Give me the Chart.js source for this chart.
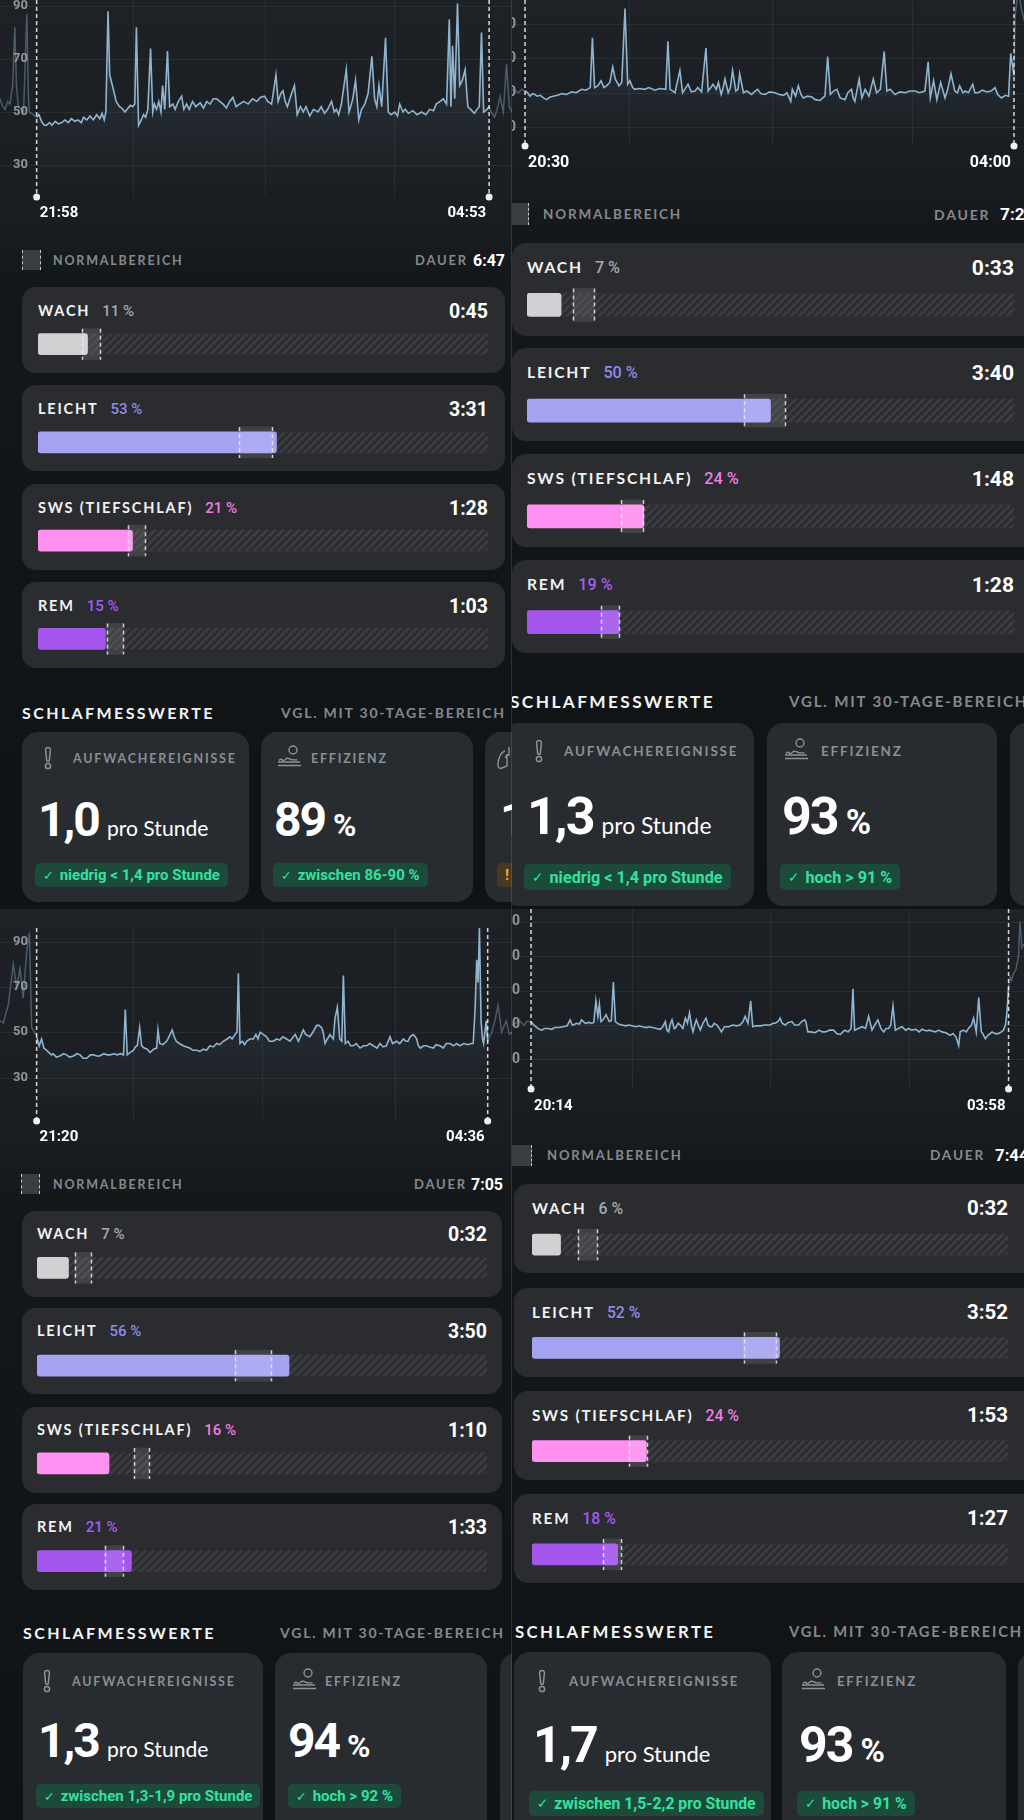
<!DOCTYPE html>
<html>
<head>
<meta charset="utf-8">
<script src="https://cdn.jsdelivr.net/npm/chart.js@4.4.1/dist/chart.umd.min.js"></script>
<style>
body { margin: 0; background: #111417; font-family: Lato, sans-serif; }
#page { position: relative; width: 1024px; height: 1820px; overflow: hidden; background: #111417; }
.panel { position: absolute; width: 512px; overflow: hidden; }
.abs { position: absolute; }
.card { position: absolute; background: #2a2c30; border-radius: 14px; }
.mcard { position: absolute; background: #282b2f; border-radius: 16px; }
.cap { position: absolute; font-family: Lato, sans-serif; font-weight: 700; text-transform: uppercase; white-space: nowrap; transform: translateY(-50%); }
.slabel { color: #f2f2f2; letter-spacing: 1.8px; }
.slabel span { font-family: Roboto, sans-serif; font-weight: 500; letter-spacing: 0; margin-left: 12px; }
.sdur { position: absolute; font-family: Roboto, sans-serif; font-weight: 700; color: #fff; transform: translate(-100%, -50%); white-space: nowrap; }
.gray { color: #85898e; letter-spacing: 1.8px; }
.nbicon { position: absolute; background: #393c41; border-left: 1.5px dashed #c8c8c8; border-right: 1.5px dashed #c8c8c8; box-sizing: border-box; }
.mnum { position: absolute; display: flex; align-items: baseline; line-height: 1; color: #fff; white-space: nowrap; }
.mnum b { font-family: Roboto, sans-serif; font-weight: 700; letter-spacing: -2px; }
.mnum span { font-family: Lato, sans-serif; margin-left: 8px; }
.mnum span.pc { font-family: Roboto, sans-serif; font-weight: 700; margin-left: 8px; }
.badge { position: absolute; display: flex; align-items: center; padding: 0 8px; border-radius: 5px; background: #1c4a3b; color: #33e2a0; font-family: Roboto, sans-serif; font-weight: 700; white-space: nowrap; }
.badge i { font-style: normal; font-family: "DejaVu Sans", sans-serif; font-weight: 400; margin-right: 6px; font-size: 0.85em; }
.badge.warn { background: #4a3921; color: #f3a53a; }
</style>
</head>
<body>
<div id="page"></div>
<script>
// --- data ---------------------------------------------------------------
const stageNames = ['WACH', 'LEICHT', 'SWS (TIEFSCHLAF)', 'REM'];
const stageColors = ['#d1d1d3', '#a6a2f2', '#ff8ff1', '#a355ec'];
const pctColors = ['#a7a9ad', '#8f8be8', '#f07de4', '#a75ded'];
const hrTicks = [30, 50, 70, 90, 110];

// night 1 (top left)
const timesA = ['21:58', '04:53'];
const totalA = '6:47';
const pctA = [11, 53, 21, 15];
const durA = ['0:45', '3:31', '1:28', '1:03'];
const normA = [[9.8, 13.8], [44.7, 52], [20, 23.8], [15.3, 18.9]];
const gridA = [88, 209, 328];
const wakeA = '1,0', wakeNoteA = 'niedrig < 1,4 pro Stunde';
const effA = '89', effNoteA = 'zwischen 86-90 %';
const preA = [[-33.6,55],[-31,52],[-29,51],[-26.5,54],[-24.5,53],[-22,60],[-20,82],[-18.5,60],[-16.8,52],[-14,51],[-12,50],[-9,87],[-7.5,55],[-6.7,50],[-3,49],[0,48]];
const hrA = [[0,48],[2,49],[5,46],[7,45],[9,45],[12,46],[14,45],[17,46.5],[20,45.5],[23,46],[26,47],[29,46],[32,47.5],[35,46.5],[38,47],[41,46],[43,48],[46,47],[49,48.5],[52,47],[55,49],[58,47.5],[60,49.5],[62,47],[63.5,50],[65.5,88],[67,64],[69.5,60],[73,54],[76,52],[78,51.5],[81,50],[83,51],[86,52.5],[88,52],[90,53],[91.5,82],[93.5,45],[96,47],[98,49],[100,48],[102,51],[104.5,74],[106.5,50],[108,53],[110,51],[112,54],[114,50],[115.5,60],[117.5,51],[120,73],[122,52],[125,53],[127,51],[130,54],[133,56],[135,51],[137.5,53],[140,51],[143,54],[146,52],[150,53.5],[153,51.5],[156,54],[159,53],[162,55],[165,55],[168,54],[171,53],[174,51.5],[177,54],[180,55.5],[183,52],[186,53],[190,54],[194,53],[198,55],[202,54],[205,55.5],[209,56],[212,54],[215.5,53],[219.5,64],[221.5,54],[224,57],[226,58],[228,54],[230,52],[233,56],[236.5,60],[239,49],[242,52],[244.5,50],[247,52],[250.5,48.5],[254,51],[258,50],[261,52],[264,49.5],[267,51],[270.5,54],[273,50],[275,51],[277,49],[279.5,53],[284,66],[286.5,50],[288,52],[290,55],[292.5,62],[295.5,47],[298,51],[301,53],[304,57],[307.5,71],[310,55],[312,52],[314,60],[316.5,52],[320,78],[322.5,50],[325,49],[328.5,50],[331,48.5],[333,53],[336,50],[338,51],[341,49.5],[345,50.5],[349,49],[353,50],[357,49],[360.5,51],[364,50.5],[366.5,53],[370,54],[373,55],[376,53],[378.5,85],[380,52],[381.5,75],[383.5,55],[386,91],[388,60],[390.5,62],[393,66],[395.5,52],[398,51],[401.5,49.5],[404,51],[406,52],[408,80],[410,50],[413,51],[415,52]];
const postA = [[415,52],[417,50],[420,48],[423,52],[425,56],[428,50],[431,68],[433.5,52],[436,50]];

// night 2 (top right)
const timesB = ['20:30', '04:00'];
const totalB = '7:29';
const pctB = [7, 50, 24, 19];
const durB = ['0:33', '3:40', '1:48', '1:28'];
const normB = [[9.5, 13.8], [44.6, 52.9], [19.4, 23.9], [15.2, 18.9]];
const gridB = [96, 227, 356];
const wakeB = '1,3', wakeNoteB = 'niedrig < 1,4 pro Stunde';
const effB = '93', effNoteB = 'hoch > 91 %';
const preB = [[-12.3,52],[-9,51],[-6,50],[-3,52],[0,51]];
const hrB = [[0,51],[2.5,50],[4.5,48],[7,49.5],[9,49],[11,48],[14,48.5],[17,47],[20,46],[23,47.5],[26,48],[30,48.5],[34,49.5],[38,49],[43,50.5],[47,50],[52,52],[56,51.5],[60,53],[62,82],[64,53],[67,54],[70,57],[72.5,53],[75,54],[78,56],[80.7,65],[83,58],[86.5,54],[89,56],[92,99],[94.5,55],[96.5,57],[99,53],[101,52],[105,52.5],[110,52],[114,53],[119.5,51.5],[124,52.5],[129.5,52],[131.5,80],[133.5,52],[136,51],[138,50],[142.5,63],[145,50],[147,52],[150,55],[153,50.5],[156.5,51],[159,53],[162.5,50.5],[166.5,76],[168.5,51],[171,53],[173,55],[176,52],[178,56],[180.5,49],[182,52],[184,58],[187,50],[189,53],[191,63],[194,51],[196,52],[197.5,61],[201,50],[204,51],[208.5,49],[211,50.5],[214,52],[217,49.5],[221,49],[225,50.5],[230,50],[234,49],[238,48.5],[241,50],[244.5,45],[246,52],[249,48],[251.5,54],[254,49],[256,47],[260,48],[264,47.5],[267,46],[271.5,45.5],[274,47],[276,48],[278.5,71],[281,49],[284,51],[287,52],[290,47],[294.5,46],[297,50],[300.5,52],[302,47],[303.5,45],[307.5,58],[310,47],[313,52],[316.5,48],[320.5,58],[323.5,50],[327,52],[330.5,74],[333,51],[336,52],[340.5,49],[345,50.5],[350,50],[354,51],[359,51],[363,50],[368,51],[371,68],[373,47],[376,57],[379,46],[382.5,56],[386.5,47],[389,52],[392,61],[395.5,51],[398,50],[400,54],[403,50],[405,51],[408,50],[412,55],[414,50],[417,50],[421,51.5],[425,50.5],[429,51],[432.5,53],[435,49],[438.5,47],[442,48.5],[445,48],[447,73],[450,60]];
const postB = [[450,60],[451,95],[454,110],[457,98],[459.5,92]];

// night 3 (bottom left)
const timesC = ['21:20', '04:36'];
const totalC = '7:05';
const pctC = [7, 56, 16, 21];
const durC = ['0:32', '3:50', '1:10', '1:33'];
const normC = [[8.4, 12], [44, 52], [21.6, 24.9], [15, 19]];
const gridC = [93, 218, 346];
const wakeC = '1,3', wakeNoteC = 'zwischen 1,3-1,9 pro Stunde';
const effC = '94', effNoteC = 'hoch > 92 %';
const preC = [[-35.4,55],[-32,54],[-30.6,57],[-27.4,62],[-22.6,80],[-19.3,70],[-16,78],[-13,65],[-9.7,85],[-7,94],[-4.8,52],[-2,50],[0,48]];
const hrC = [[0,48],[2.5,44],[4.8,47],[7,43],[9.7,42],[12,41],[14.5,40],[16,40.5],[19,39],[22.5,39.5],[26,40.5],[29,40],[32,39],[35.5,39.5],[39,40.5],[42,40],[45,38.5],[48.5,38.5],[52,40],[55,40],[58,39.5],[61,39.5],[65,40.5],[68,40],[71,40],[75,40.5],[78,40],[81,40.5],[84,40],[85.7,60],[87.6,40],[90,41],[93.5,42],[95.5,43.5],[97.3,44],[99.6,52],[101.5,44],[104,43],[107,42.5],[109.6,41],[113,42.5],[116,43],[117.3,51],[119,45],[122,44.5],[125.7,46],[128,48],[131,51],[133,48],[135,46],[138,45],[141.8,44],[145,43.5],[148,43],[151,42],[154.7,42],[158,41.5],[161,42.5],[164,42],[167.6,44],[171,43.5],[174,45],[177,44.5],[180.5,46],[184,47],[187,48],[189,47],[191.7,49],[193.7,50],[195,76],[196.6,45],[199,46],[201,44.5],[203,46],[206,47],[209.5,47],[212,49],[214,47],[216,50],[219,49],[222.3,48],[225,46],[228.8,46],[232,47],[235,46.5],[238,48],[241.7,47],[245,46],[248,48],[250,49],[253,46],[255,48],[257.8,51],[260,49],[264,48],[267,50],[270.7,53],[273,53],[275.5,52],[277,50],[278.8,45],[281,47],[283.6,49],[285,48],[286.8,47],[288.4,56],[290.7,61],[293,47],[295,46],[296.5,75],[298.4,45],[301,46],[303.5,44],[306,44],[309,45],[312.6,43],[316,44],[319,44],[322,45],[325.5,44],[329,43],[332,45],[335,43.5],[338,44],[341.6,48],[344,45],[348,46],[351,45],[354.5,47],[357,46],[359,46],[361,48],[364,49],[366,48],[367.4,47],[369,44],[371,43],[374,44],[377,44],[380,43.5],[383.5,43],[386,44.5],[390,44],[393,43],[396,45],[399.6,45],[403,44],[406,45],[409,44],[413,45],[417,44.5],[420,45],[422,45],[423.8,60],[425.4,82],[426.7,72],[428,96],[429.6,55],[431,47],[432,45],[434.6,55],[436,46]];
const postC = [[436,46],[438,48],[440,50],[443,55],[446,62],[449.5,50],[452,53],[454,55],[457,49],[459.5,50]];

// night 4 (bottom right)
const timesD = ['20:14', '03:58'];
const totalD = '7:44';
const pctD = [6, 52, 24, 18];
const durD = ['0:32', '3:52', '1:53', '1:27'];
const normD = [[9.7, 13.6], [44.5, 51.2], [20.4, 24.2], [15, 18.7]];
const gridD = [98, 232, 367];
const wakeD = '1,7', wakeNoteD = 'zwischen 1,5-2,2 pro Stunde';
const effD = '93', effNoteD = 'hoch > 91 %';
const preD = [[-18.5,50],[-15,51],[-12,53],[-9,51],[-7,50],[-4,52],[-2.3,52],[0,52]];
const hrD = [[0,52],[2.6,50],[5.8,48.5],[8,47.5],[10.7,47],[13,48],[17,48],[20,47.5],[23,48.5],[27,48.5],[31,49],[35,49.5],[38,53],[40,50],[41.5,50],[44,51],[47,50.5],[49,53],[52.8,51],[56,51.5],[59,51],[61,51.5],[63,64],[65,55],[66.4,62],[68,52],[70,53],[72.9,56],[76,52],[78,52.5],[80,75],[82,52],[85,50.5],[88.4,50],[92,49.5],[95,50],[98,49.5],[102,49],[105,49.5],[108,49],[112,48.5],[115,49],[118,48.5],[122,48],[125.6,47.5],[128,49],[130.5,52],[132,47],[133.7,46],[135,50],[137,53],[139,48],[140,48],[143,51],[145,50],[147.5,48],[150,54],[152,51],[154,57],[156,49],[157.4,46],[159,50],[160.6,53],[162.5,50],[164.5,47],[167,51],[170,54],[172,50],[174,49],[175.8,49],[178,51],[180.7,50],[183,48],[185,46],[188,49],[192,49],[196,50],[200,49.5],[203,50],[206,52],[208,55],[210.8,51],[213.4,64],[215.4,49],[218,49.5],[222.8,49.5],[227,50],[232.5,50],[235,51],[237.4,51],[240,52],[242,54],[244,51],[247,50],[250,51.5],[253.5,52],[256,50],[260,50],[263,52],[265.9,53],[267,52],[269,46],[272,46],[276,45.5],[280,47],[283,46],[286,46],[290,47],[294,47],[297,45],[300.5,44.5],[303,46],[305,47],[308,46],[311,48],[312.8,71],[314.4,47],[318,48],[321.6,49],[325,48],[328,55],[331.3,47],[334,50],[337,53],[340,48],[342.6,46],[345,48],[347.5,48],[349.5,50],[351.7,61],[354,47],[357,48],[360.4,49],[364,47],[367,48],[370,47],[374,47.5],[377,46],[380,47.5],[384,46.5],[387,47],[389.6,46.5],[393,46],[396,47],[399.3,46],[403,45.5],[407.4,44],[410,45],[413,43],[415.5,38],[417,46],[420,47],[423,46],[425,48],[428,50],[430,54],[432.6,46],[435,66],[437.5,46],[439,45],[441.4,42],[444,44],[448,46],[451,45],[454,45],[457,46],[459,47],[461,50],[462,55],[463,62],[464,72]];
const postD = [[464,72],[465.5,78],[467,76],[468.8,80],[471,82],[473.7,90],[475,110],[477,95],[479,97]];

// --- layout of the four screenshots -----------------------------------
const layoutA = {
  x: 0, y: 0, h: 909, s: 1,
  hr: { top: 0, height: 230, pad: 33, min: -33.6, max: 436, yMin: 17.9, yMax: 92.3, labelRight: 28, timeDy: 16 },
  legend: { y: 260, icon: 22, iconW: 19, text: 53, dauer: 415, value: 473 },
  cards: { left: 22, right: 505, tops: [287, 385, 484, 582], h: 86, labelDy: 24, barDy: 57.5, track: [38, 488], bar: 21 },
  metric: { titleY: 712, titleX: 22, vglX: 281, top: 732, h: 170, headDy: 26, base: 104, badgeTop: 131, badgeH: 24, num: 48,
    cards: [{ x0: 22, x1: 249, icon: 26, head: 51, numX: 16, badge: 13 }, { x0: 261, x1: 473, icon: 14, head: 50, numX: 13, badge: 12 }, { x0: 485, x1: 720, extra: true }] }
};
const layoutB = {
  x: 512, y: 0, h: 909, s: 1.08,
  hr: { top: 0, height: 170, pad: 24, min: -12, max: 459.2, yMin: 19, yMax: 104, labelRight: 4, timeDy: 17 },
  legend: { y: 214, icon: -3, iconW: 20, text: 31, dauer: 422, value: 488 },
  cards: { left: 0, right: 530, tops: [243, 348, 454, 560], h: 93, labelDy: 24, barDy: 61.5, track: [15, 502], bar: 23 },
  metric: { titleY: 701, titleX: -2, vglX: 277, top: 723, h: 183, headDy: 28, base: 112, badgeTop: 141, badgeH: 26, num: 52,
    cards: [{ x0: -10, x1: 242, icon: 37, head: 62, numX: 25, badge: 22 }, { x0: 255, x1: 485, icon: 15, head: 54, numX: 15, badge: 13 }, { x0: 498, x1: 740 }] }
};
const layoutC = {
  x: 0, y: 909, h: 911, s: 1,
  hr: { top: 19, height: 223, pad: 30, min: -35.4, max: 459.5, yMin: 10.8, yMax: 96, labelRight: 28, timeDy: 16 },
  legend: { y: 275, icon: 21, iconW: 19, text: 53, dauer: 414, value: 471 },
  cards: { left: 22, right: 502, tops: [302, 399, 498, 595], h: 86, labelDy: 23, barDy: 57, track: [37, 487], bar: 21 },
  metric: { titleY: 723, titleX: 23, vglX: 280, top: 744, h: 190, headDy: 28, base: 104, badgeTop: 131, badgeH: 24, num: 48,
    cards: [{ x0: 23, x1: 263, icon: 24, head: 49, numX: 15, badge: 13 }, { x0: 275, x1: 487, icon: 15, head: 50, numX: 13, badge: 13 }, { x0: 500, x1: 720 }] }
};
const layoutD = {
  x: 512, y: 909, h: 911, s: 1.05,
  hr: { top: 0, height: 210, pad: 30, min: -18.5, max: 479, yMin: 12.8, yMax: 117.4, labelRight: 8, timeDy: 17 },
  legend: { y: 246, icon: -2, iconW: 22, text: 35, dauer: 418, value: 483 },
  cards: { left: 2, right: 530, tops: [275, 379, 482, 585], h: 89, labelDy: 23.5, barDy: 60.5, track: [20, 496], bar: 21 },
  metric: { titleY: 722, titleX: 3, vglX: 277, top: 743, h: 190, headDy: 29, base: 110, badgeTop: 139, badgeH: 25, num: 50,
    cards: [{ x0: 2, x1: 259, icon: 28, head: 55, numX: 19, badge: 15 }, { x0: 270, x1: 494, icon: 17, head: 55, numX: 17, badge: 15 }, { x0: 506, x1: 720 }] }
};

const panels = [
  { L: layoutA, pre: preA, hr: hrA, post: postA, grid: gridA, times: timesA, total: totalA, pct: pctA, dur: durA, norm: normA, wake: wakeA, wakeNote: wakeNoteA, eff: effA, effNote: effNoteA },
  { L: layoutB, pre: preB, hr: hrB, post: postB, grid: gridB, times: timesB, total: totalB, pct: pctB, dur: durB, norm: normB, wake: wakeB, wakeNote: wakeNoteB, eff: effB, effNote: effNoteB },
  { L: layoutC, pre: preC, hr: hrC, post: postC, grid: gridC, times: timesC, total: totalC, pct: pctC, dur: durC, norm: normC, wake: wakeC, wakeNote: wakeNoteC, eff: effC, effNote: effNoteC },
  { L: layoutD, pre: preD, hr: hrD, post: postD, grid: gridD, times: timesD, total: totalD, pct: pctD, dur: durD, norm: normD, wake: wakeD, wakeNote: wakeNoteD, eff: effD, effNote: effNoteD }
];

// --- plugins ------------------------------------------------------------
const hrDecor = {
  id: 'hrDecor',
  beforeDatasetsDraw(chart, args, o) {
    const { ctx, chartArea: a, scales: { x, y } } = chart;
    ctx.save();
    ctx.strokeStyle = 'rgba(255,255,255,0.06)';
    ctx.lineWidth = 1;
    ctx.beginPath();
    o.grid.forEach(m => {
      const px = Math.round(x.getPixelForValue(m)) + 0.5;
      ctx.moveTo(px, a.top); ctx.lineTo(px, a.bottom);
    });
    o.ticks.forEach(v => {
      if (v < y.min || v > y.max) return;
      const py = Math.round(y.getPixelForValue(v)) + 0.5;
      ctx.moveTo(a.left, py); ctx.lineTo(a.right, py);
    });
    ctx.stroke();
    ctx.restore();
  },
  afterDatasetsDraw(chart, args, o) {
    const { ctx, chartArea: a, scales: { x, y } } = chart;
    ctx.save();
    ctx.font = 'bold ' + Math.round(13 * o.s) + 'px Roboto';
    ctx.fillStyle = 'rgba(165,169,175,0.85)';
    ctx.textAlign = 'right';
    ctx.textBaseline = 'middle';
    o.ticks.forEach(v => {
      if (v < y.min || v > y.max) return;
      ctx.fillText(String(v), o.labelRight, y.getPixelForValue(v));
    });
    const xs = [x.getPixelForValue(o.start), x.getPixelForValue(o.end)];
    ctx.strokeStyle = 'rgba(235,235,235,0.9)';
    ctx.lineWidth = 1.5;
    ctx.setLineDash([4, 3]);
    xs.forEach(px => { ctx.beginPath(); ctx.moveTo(px, a.top); ctx.lineTo(px, a.bottom); ctx.stroke(); });
    ctx.setLineDash([]);
    ctx.fillStyle = '#f2f2f2';
    xs.forEach(px => { ctx.beginPath(); ctx.arc(px, a.bottom, 3.5, 0, Math.PI * 2); ctx.fill(); });
    ctx.font = 'bold ' + Math.round(14.5 * o.s) + 'px Roboto';
    ctx.fillStyle = '#ffffff';
    ctx.textAlign = 'left';
    ctx.fillText(o.times[0], xs[0] + 3, a.bottom + o.timeDy);
    ctx.textAlign = 'right';
    ctx.fillText(o.times[1], xs[1] - 3, a.bottom + o.timeDy);
    ctx.restore();
  }
};

const normEdges = {
  id: 'normEdges',
  afterDatasetsDraw(chart) {
    const { ctx } = chart;
    ctx.save();
    ctx.strokeStyle = 'rgba(235,235,235,0.85)';
    ctx.lineWidth = 1.5;
    ctx.setLineDash([4, 3]);
    chart.getDatasetMeta(0).data.forEach(bar => {
      const { x, base, y, height } = bar.getProps(['x', 'base', 'y', 'height'], true);
      [x, base].forEach(px => {
        ctx.beginPath();
        ctx.moveTo(Math.round(px) + 0.5, y - height / 2);
        ctx.lineTo(Math.round(px) + 0.5, y + height / 2);
        ctx.stroke();
      });
    });
    ctx.restore();
  }
};

function hatch() {
  const c = document.createElement('canvas');
  c.width = 8; c.height = 8;
  const g = c.getContext('2d');
  g.fillStyle = '#2c2e32';
  g.fillRect(0, 0, 8, 8);
  g.strokeStyle = '#3c3e42';
  g.lineWidth = 2.6;
  g.beginPath();
  g.moveTo(-1, 9); g.lineTo(9, -1);
  g.moveTo(-1, 1); g.lineTo(1, -1);
  g.moveTo(7, 9); g.lineTo(9, 7);
  g.stroke();
  return g.createPattern(c, 'repeat');
}

// --- helpers ------------------------------------------------------------
function add(parent, cls, style, html) {
  const d = document.createElement('div');
  if (cls) d.className = cls;
  d.style.cssText = style;
  if (html != null) d.innerHTML = html;
  parent.appendChild(d);
  return d;
}

function canvasAt(parent, left, top, w, h) {
  const c = document.createElement('canvas');
  c.width = w; c.height = h;
  c.style.cssText = `position:absolute;left:${left}px;top:${top}px;width:${w}px;height:${h}px`;
  parent.appendChild(c);
  return c;
}

const pts = arr => arr.map(p => ({ x: p[0], y: p[1] }));

function hrChart(canvas, p) {
  const H = p.L.hr;
  const faded = 'rgba(143,180,207,0.4)';
  new Chart(canvas, {
    type: 'line',
    data: {
      datasets: [
        {
          data: pts(p.hr), borderColor: '#8fb5d0', borderWidth: 1.6, pointRadius: 0, tension: 0, fill: 'start',
          backgroundColor: c => {
            const a = c.chart.chartArea;
            if (!a) return 'rgba(0,0,0,0)';
            const g = c.chart.ctx.createLinearGradient(0, a.top + a.height * 0.35, 0, a.bottom);
            g.addColorStop(0, 'rgba(140,175,200,0.10)');
            g.addColorStop(1, 'rgba(140,175,200,0)');
            return g;
          }
        },
        { data: pts(p.pre), borderColor: faded, borderWidth: 1.5, pointRadius: 0, tension: 0 },
        { data: pts(p.post), borderColor: faded, borderWidth: 1.5, pointRadius: 0, tension: 0 }
      ]
    },
    options: {
      responsive: false, animation: false, events: [],
      layout: { padding: { bottom: H.pad } },
      scales: {
        x: { type: 'linear', min: H.min, max: H.max, display: false },
        y: { min: H.yMin, max: H.yMax, display: false }
      },
      plugins: {
        legend: { display: false }, tooltip: { enabled: false },
        hrDecor: { grid: p.grid, ticks: hrTicks, labelRight: H.labelRight, start: 0, end: p.hr[p.hr.length - 1][0], times: p.times, timeDy: H.timeDy, s: p.L.s }
      }
    },
    plugins: [hrDecor]
  });
}

function stageChart(canvas, p, pattern) {
  const C = p.L.cards;
  new Chart(canvas, {
    type: 'bar',
    data: {
      labels: stageNames,
      datasets: [
        { data: p.norm, backgroundColor: 'rgba(255,255,255,0.1)', barThickness: C.bar + 10, grouped: false, borderWidth: 0 },
        { data: p.pct, backgroundColor: stageColors, barThickness: C.bar, borderRadius: 3, borderSkipped: false, grouped: false },
        { data: stageNames.map(() => 100), backgroundColor: pattern, barThickness: C.bar, borderRadius: 3, borderSkipped: false, grouped: false }
      ]
    },
    options: {
      indexAxis: 'y', responsive: false, animation: false, events: [],
      scales: { x: { min: 0, max: 100, display: false }, y: { display: false } },
      plugins: { legend: { display: false }, tooltip: { enabled: false } }
    },
    plugins: [normEdges]
  });
}

const iconWake = '<svg width="12" height="24" viewBox="0 0 12 24" fill="none" stroke="#8e9196" stroke-width="1.5"><path d="M6 1.5c1.7 0 2.6 1.1 2.4 2.7L7.3 14.3c-.1.8-.6 1.3-1.3 1.3s-1.2-.5-1.3-1.3L3.6 4.2C3.4 2.6 4.3 1.5 6 1.5z"/><circle cx="6" cy="20" r="2.6"/></svg>';
const iconEff = '<svg width="28" height="24" viewBox="0 0 28 24" fill="none" stroke="#8e9196" stroke-width="1.4"><circle cx="18" cy="5" r="4"/><path d="M4 15.5c1.2-1.6 2.4-1.6 3.4-.6s2.2.4 3.2-.8 3-1 4.8 0 3.6 1 7 .6M3 17h22M3 20.5h23"/></svg>';
const iconLung = '<svg width="26" height="26" viewBox="0 0 26 26" fill="none" stroke="#8e9196" stroke-width="1.4"><path d="M13 2v9M13 9c-2 1-3 2-4 4M9 6C5 7 2 13 2 20c0 3 2 4 4 3l5-2V9"/></svg>';

function buildPanel(page, p, pattern) {
  const L = p.L, s = L.s;
  const chartEnd = L.hr.top + L.hr.height;
  const root = add(page, 'panel', `left:${L.x}px;top:${L.y}px;height:${L.h}px;` +
    `background:linear-gradient(180deg,#1e2227 0px,#1a1e22 ${chartEnd - 20}px,#15181b ${L.legend.y + 15}px,#131619 ${L.cards.tops[2]}px,#101316 100%)`);

  // heart-rate chart
  hrChart(canvasAt(root, 0, L.hr.top, 512, L.hr.height), p);

  // legend row
  const lg = L.legend;
  add(root, 'nbicon', `left:${lg.icon}px;top:${lg.y - 10 * s}px;width:${lg.iconW}px;height:${20 * s}px`);
  add(root, 'cap gray', `left:${lg.text}px;top:${lg.y}px;font-size:${12.5 * s}px`, 'Normalbereich');
  add(root, 'cap gray', `left:${lg.dauer}px;top:${lg.y}px;font-size:${13 * s}px`, 'Dauer');
  add(root, 'cap', `left:${lg.value}px;top:${lg.y}px;font-size:${16 * s}px;font-family:Roboto;color:#fff`, p.total);

  // stage cards
  const C = L.cards;
  C.tops.forEach((t, i) => {
    add(root, 'card', `left:${C.left}px;top:${t}px;width:${C.right - C.left}px;height:${C.h}px`);
    add(root, 'cap slabel', `left:${C.track[0]}px;top:${t + C.labelDy}px;font-size:${14.5 * s}px`,
      `${stageNames[i]}<span style="color:${pctColors[i]};font-size:${15 * s}px">${p.pct[i]} %</span>`);
    add(root, 'sdur', `left:${C.track[1]}px;top:${t + C.labelDy}px;font-size:${19.5 * s}px`, p.dur[i]);
  });
  const pitch = (C.tops[3] - C.tops[0]) / 3;
  const w = C.track[1] - C.track[0];
  stageChart(canvasAt(root, C.track[0], Math.round(C.tops[0] + C.barDy - pitch / 2), w, Math.round(pitch * 4)), p, pattern);

  // sleep metrics
  const M = L.metric;
  add(root, 'cap', `left:${M.titleX}px;top:${M.titleY}px;font-size:${16 * s}px;color:#f4f4f4;letter-spacing:2.4px`, 'Schlafmesswerte');
  add(root, 'cap gray', `left:${M.vglX}px;top:${M.titleY}px;font-size:${14 * s}px`, 'Vgl. mit 30-Tage-Bereich');
  M.cards.forEach((mc, k) => {
    add(root, 'mcard', `left:${mc.x0}px;top:${M.top}px;width:${mc.x1 - mc.x0}px;height:${M.h}px`);
    if (k > 1) {
      if (mc.extra) {
        add(root, 'abs', `left:${mc.x0 + 11}px;top:${M.top + M.headDy - 13}px`, iconLung);
        add(root, 'mnum', `left:${mc.x0 + 15}px;top:${M.top + M.base - 0.842 * M.num}px`, `<b style="font-size:${M.num}px">1</b>`);
        add(root, 'badge warn', `left:${mc.x0 + 12}px;top:${M.top + M.badgeTop}px;height:${M.badgeH}px;font-size:${15 * s}px`, '!');
      }
      return;
    }
    const x0 = mc.x0, top = M.top;
    const fs = 12.5 * s;
    if (k === 0) {
      add(root, 'abs', `left:${x0 + mc.icon - 6}px;top:${top + M.headDy - 12}px`, iconWake);
      add(root, 'cap gray', `left:${x0 + mc.head}px;top:${top + M.headDy}px;font-size:${fs}px;color:#8b8f94`, 'Aufwachereignisse');
      add(root, 'mnum', `left:${x0 + mc.numX}px;top:${top + M.base - 0.842 * M.num}px`,
        `<b style="font-size:${M.num}px">${p.wake}</b><span style="font-size:${M.num * 0.44}px">pro Stunde</span>`);
      add(root, 'badge', `left:${x0 + mc.badge}px;top:${top + M.badgeTop}px;height:${M.badgeH}px;font-size:${15 * s}px`, `<i>✓</i>${p.wakeNote}`);
    } else {
      add(root, 'abs', `left:${x0 + mc.icon}px;top:${top + M.headDy - 13}px`, iconEff);
      add(root, 'cap gray', `left:${x0 + mc.head}px;top:${top + M.headDy}px;font-size:${fs}px;color:#8b8f94`, 'Effizienz');
      add(root, 'mnum', `left:${x0 + mc.numX}px;top:${top + M.base - 0.842 * M.num}px`,
        `<b style="font-size:${M.num}px">${p.eff}</b><span class="pc" style="font-size:${M.num * 0.66}px">%</span>`);
      add(root, 'badge', `left:${x0 + mc.badge}px;top:${top + M.badgeTop}px;height:${M.badgeH}px;font-size:${15 * s}px`, `<i>✓</i>${p.effNote}`);
    }
  });
}

const page = document.getElementById('page');
const pattern = hatch();
panels.forEach(p => buildPanel(page, p, pattern));
add(page, 'abs', 'left:511px;top:0;width:1px;height:1820px;background:rgba(255,255,255,0.12)');
</script>
</body>
</html>
